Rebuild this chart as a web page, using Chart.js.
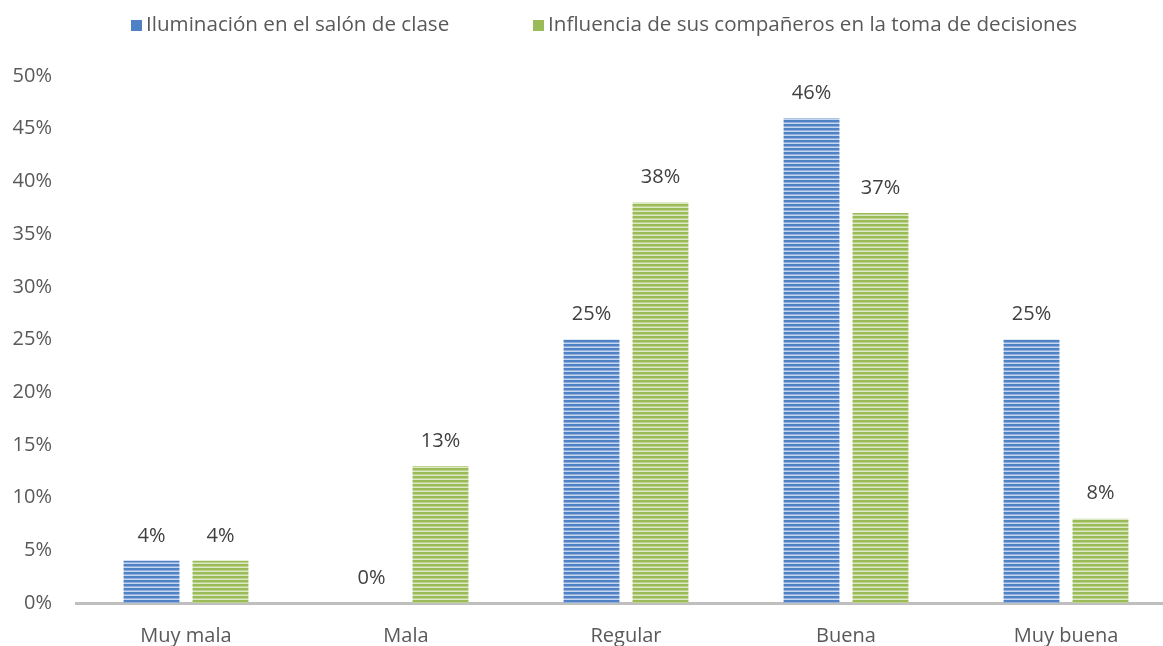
<!DOCTYPE html>
<html><head><meta charset="utf-8">
<script src="https://cdn.jsdelivr.net/npm/chart.js@4/dist/chart.umd.min.js"></script>
<style>html,body{margin:0;padding:0;overflow:hidden;background:#fff}#wrap{width:1180px;height:646px}</style>
</head><body><div id="wrap"><canvas id="c" width="1180" height="646"></canvas></div>
<script>
const categories = ["Muy mala","Mala","Regular","Buena","Muy buena"];
const seriesNames = ["Iluminación en el salón de clase","Influencia de sus compañeros en la toma de decisiones"];
const iluminacion = [4,0,25,46,25];
const influencia = [4,13,38,37,8];
const yTicks = [0,5,10,15,20,25,30,35,40,45,50];

const FONT = "'Open Sans', 'DejaVu Sans', sans-serif";
const FS = 20;
function stripes(dark, mid, light){
  const p = document.createElement('canvas'); p.width = 4; p.height = 4;
  const g = p.getContext('2d');
  g.fillStyle = dark; g.fillRect(0,0,4,2);
  g.fillStyle = mid; g.fillRect(0,2,4,1);
  g.fillStyle = light; g.fillRect(0,3,4,1);
  return document.getElementById('c').getContext('2d').createPattern(p,'repeat');
}
const blueFill = stripes('#4f81c4','#8fb0dc','#c5d6ee');
const greenFill = stripes('#9bbb59','#bdd48e','#dde9c6');
const legendColors = ['#4f81c4','#9bbb59'];

const labelPlugin = {
  id:'vals',
  afterDatasetsDraw(chart){
    const ctx = chart.ctx; ctx.save();
    ctx.font = FS + "px " + FONT; ctx.fillStyle = '#404040';
    ctx.textAlign = 'center'; ctx.textBaseline = 'middle';
    chart.data.datasets.forEach((ds,i)=>{
      chart.getDatasetMeta(i).data.forEach((el,j)=>{
        ctx.fillText(ds.data[j] + '%', el.x, el.y - 25);
      });
    });
    ctx.restore();
  }
};
const legendPlugin = {
  id:'leg',
  afterDraw(chart){
    const ctx = chart.ctx; ctx.save();
    ctx.font = "20.6px " + FONT;
    ctx.textBaseline = 'middle'; ctx.textAlign = 'left';
    const xs = [131, 533];
    seriesNames.forEach((n,i)=>{
      ctx.fillStyle = legendColors[i];
      ctx.fillRect(xs[i], 20, 11, 11);
      ctx.fillStyle = '#595959';
      ctx.fillText(n, xs[i] + 15, 25);
    });
    ctx.restore();
  }
};

new Chart(document.getElementById('c'), {
  type:'bar',
  data:{
    labels: categories,
    datasets:[
      {label: seriesNames[0], data: iluminacion, backgroundColor: blueFill, categoryPercentage:0.627, barPercentage:0.81},
      {label: seriesNames[1], data: influencia, backgroundColor: greenFill, categoryPercentage:0.627, barPercentage:0.81}
    ]
  },
  options:{
    responsive:false, animation:false,
    layout:{padding:{top:76,left:0,right:4,bottom:0}},
    plugins:{legend:{display:false}, tooltip:{enabled:false}},
    scales:{
      x:{
        grid:{display:false, drawTicks:false},
        border:{display:true, color:'#bfbfbf', width:3},
        ticks:{color:'#595959', font:{family:FONT, size:FS}, padding:21},
        afterFit(s){ s.height = 43; }
      },
      y:{
        min:0, max:50,
        afterBuildTicks(s){ s.ticks = yTicks.map(v=>({value:v})); },
        grid:{display:false, drawTicks:false},
        border:{display:false},
        ticks:{color:'#595959', font:{family:FONT, size:FS}, padding:24, callback:v=>v+'%'},
        afterFit(s){ s.width = 76; }
      }
    }
  },
  plugins:[labelPlugin, legendPlugin]
});
</script></body></html>
